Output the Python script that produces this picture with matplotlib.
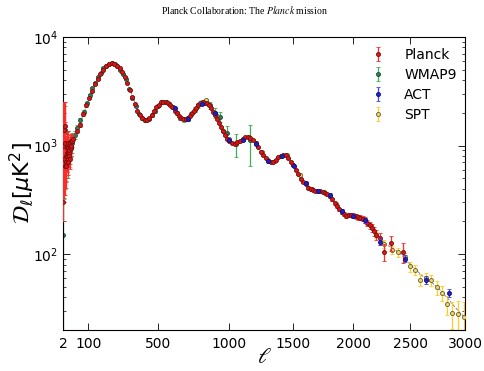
import numpy as np
import matplotlib
matplotlib.use("Agg")
import matplotlib.pyplot as plt

plt.rcParams['mathtext.fontset'] = 'stix'

# --- data ----------------------------------------------------------------
# best-fit model (thin dashed line)
model_ell = [2, 5, 10, 20, 30, 40, 60, 80, 100, 120, 140, 160, 180, 200, 220, 240, 260,
             280, 300, 330, 360, 390, 420, 450, 480, 510, 540, 570, 600, 630, 660, 690,
             720, 750, 780, 810, 840, 870, 900, 930, 960, 990, 1020, 1050, 1080, 1110,
             1140, 1170, 1200, 1230, 1260, 1290, 1320, 1350, 1380, 1410, 1440, 1470,
             1500, 1530, 1560, 1590, 1620, 1650, 1680, 1710, 1740, 1770, 1800, 1830,
             1860, 1890, 1920, 1950, 1980, 2010, 2040, 2070, 2100, 2130, 2160, 2190,
             2250, 2300, 2350, 2400, 2450, 2500, 2550, 2600, 2650, 2700, 2750, 2800,
             2850, 2900, 2950, 3000]
model_dl = [1000, 860, 820, 880, 1000, 1200, 1550, 2000, 2600, 3200, 3900, 4550, 5100,
            5550, 5730, 5620, 5300, 4850, 4200, 3150, 2380, 1900, 1720, 1800, 2100, 2400,
            2540, 2470, 2250, 2000, 1800, 1740, 1900, 2150, 2400, 2520, 2430, 2200, 1900,
            1600, 1330, 1150, 1060, 1060, 1120, 1180, 1200, 1150, 1050, 920, 810, 740, 705,
            720, 770, 810, 810, 750, 660, 580, 500, 450, 410, 395, 390, 385, 375, 355, 340,
            310, 280, 255, 238, 228, 226, 225, 220, 212, 203, 190, 175, 160, 135, 120, 112,
            103, 92, 80, 72, 64, 58, 54, 49, 43, 38, 33, 29, 26]

# Planck low-l (unbinned)
planck_low_ell = [2, 3, 4, 5, 6, 7, 8, 9, 10, 11, 12, 13, 14, 15, 16, 17, 18, 19, 20,
                  21, 22, 23, 24, 25, 26, 27, 28, 29]
planck_low_dl = [300, 1000, 750, 1400, 1500, 650, 1050, 800, 650, 700, 950, 800, 850,
                 1050, 850, 950, 700, 850, 800, 900, 750, 1000, 1050, 950, 950, 1100,
                 1000, 1100]
planck_low_lo = [100, 600, 420, 700, 650, 300, 400, 300, 240, 240, 280, 230, 230, 250,
                 200, 210, 160, 180, 160, 170, 140, 170, 170, 150, 150, 150, 140, 140]
planck_low_hi = [2200, 1500, 900, 1100, 1000, 500, 600, 420, 350, 330, 380, 300, 290,
                 320, 250, 260, 200, 220, 200, 210, 170, 210, 210, 180, 180, 180, 160, 160]

# Planck binned
planck_ell = [35, 48, 62, 76, 90, 104, 118, 132, 146, 160, 175, 190, 205, 220, 235, 250,
              265, 280, 295, 310, 325, 340, 355, 370, 385, 400, 415, 430, 445, 460, 475,
              490, 505, 520, 535, 550, 565, 580, 595, 610, 625, 640, 655, 670, 685, 700,
              715, 730, 745, 760, 775, 790, 805, 820, 835, 850, 865, 880, 895, 910, 925,
              940, 955, 970, 985, 1000, 1020, 1040, 1060, 1080, 1100, 1120, 1140, 1160,
              1180, 1200, 1220, 1240, 1260, 1280, 1300, 1320, 1340, 1360, 1380, 1400,
              1420, 1440, 1460, 1480, 1500, 1520, 1540, 1560, 1580, 1600, 1620, 1640,
              1660, 1680, 1700, 1720, 1740, 1760, 1780, 1800, 1820, 1840, 1860, 1880,
              1900, 1920, 1940, 1960, 1980, 2000, 2020, 2040, 2060, 2080, 2100, 2120,
              2140, 2160, 2180, 2200, 2230, 2270, 2330, 2430]
planck_dl = [1150, 1350, 1550, 1950, 2350, 2750, 3200, 3650, 4100, 4550, 5000, 5400,
             5650, 5750, 5680, 5450, 5150, 4800, 4300, 3800, 3250, 2800, 2400, 2100, 1900,
             1780, 1700, 1720, 1800, 1920, 2080, 2250, 2380, 2500, 2540, 2530, 2470, 2370,
             2250, 2100, 1980, 1870, 1800, 1760, 1750, 1790, 1880, 1990, 2100, 2220, 2350,
             2450, 2500, 2480, 2440, 2350, 2230, 2050, 1900, 1750, 1620, 1480, 1360, 1260,
             1160, 1100, 1050, 1040, 1070, 1110, 1160, 1190, 1200, 1170, 1120, 1050, 960,
             880, 810, 760, 720, 700, 710, 740, 780, 800, 815, 810, 770, 710, 660, 600, 545,
             490, 460, 440, 410, 395, 390, 385, 385, 380, 375, 365, 355, 340, 320, 295, 275,
             258, 245, 235, 225, 228, 230, 226, 222, 218, 216, 212, 205, 195, 185, 175, 162,
             150, 140, 105, 126, 105]
planck_err = [60, 60, 60, 70, 70, 70, 80, 80, 80, 80, 80, 80, 80, 80, 80, 80,
              80, 70, 70, 60, 60, 50, 45, 40, 35, 35, 35, 35, 35, 35, 35,
              40, 40, 40, 40, 40, 40, 40, 40, 35, 35, 35, 30, 30, 30, 30,
              30, 35, 35, 35, 40, 40, 40, 40, 40, 40, 40, 35, 35, 30, 30,
              30, 25, 25, 25, 20, 20, 20, 20, 20, 20, 20, 20, 20,
              20, 20, 18, 16, 15, 14, 14, 14, 14, 14, 15, 15,
              15, 15, 15, 14, 14, 12, 12, 11, 10, 10, 10, 10,
              10, 10, 10, 10, 10, 10, 10, 10, 10, 10, 10, 10,
              10, 10, 10, 10, 10, 11, 12, 12, 12, 12, 13, 13,
              14, 15, 16, 16, 18, 18, 20, 22, 20][:130]

# WMAP9
wmap_ell = [2, 3, 4, 5, 6, 7, 8, 10, 12, 15, 18, 22, 26, 30,
            40, 52, 64, 78, 92, 106, 120, 134, 148, 162, 176, 190, 205, 220, 236, 252,
            268, 284, 300,
            320, 340, 360, 380, 400, 420, 440, 460, 480, 500,
            525, 550, 575, 600, 625, 650, 675, 700,
            725, 750, 775, 800, 830, 860, 895, 935, 985, 1050, 1160]
wmap_dl = [150, 900, 700, 1300, 1400, 700, 1000, 750, 950, 1000, 700, 900, 1000, 1050,
           1250, 1450, 1700, 2050, 2450, 2900, 3350, 3800, 4250, 4700, 5150, 5450, 5650,
           5720, 5620, 5350, 5000, 4550, 4100,
           3300, 2750, 2300, 1950, 1780, 1710, 1760, 1900, 2080, 2320,
           2500, 2530, 2430, 2250, 2000, 1800, 1750, 1780,
           1950, 2150, 2350, 2480, 2500, 2350, 2000, 1844, 1295, 1032, 1124]
wmap_lo = [145, 550, 380, 650, 600, 300, 380, 280, 300, 280, 200, 220, 220, 200,
           100, 80, 80, 80, 80, 80, 80, 80, 80, 80, 80, 80, 80, 80, 80, 80, 80, 80, 80,
           70, 70, 60, 60, 60, 60, 60, 60, 70, 70,
           80, 80, 80, 80, 80, 80, 90, 90,
           100, 110, 120, 140, 160, 180, 200, 200, 127, 252, 477]
wmap_hi = [1300, 1300, 800, 1000, 900, 450, 550, 380, 400, 360, 250, 280, 270, 240,
           100, 80, 80, 80, 80, 80, 80, 80, 80, 80, 80, 80, 80, 80, 80, 80, 80, 80, 80,
           70, 70, 60, 60, 60, 60, 60, 60, 70, 70,
           80, 80, 80, 80, 80, 80, 90, 90,
           100, 110, 120, 140, 160, 180, 200, 200, 229, 245, 423]

# ACT
act_ell = [610, 700, 800, 895, 995, 1100, 1200, 1300, 1405, 1505, 1600, 1700, 1800, 1900,
           2000, 2100, 2230, 2450, 2645, 2850]
act_dl = [2200, 1760, 2430, 1980, 1124, 1130, 1040, 720, 800, 650, 450, 385, 350, 248, 226,
          205, 130, 91, 58, 44]
act_err = [60, 50, 60, 50, 30, 30, 30, 20, 20, 18, 14, 12, 12, 10, 10, 10, 9, 7, 5, 4]

# SPT
spt_ell = [650, 700, 750, 800, 830, 900, 950, 1000, 1050, 1100, 1150, 1200, 1250, 1300,
           1350, 1400, 1450, 1500, 1550, 1600, 1650, 1700, 1750, 1800, 1850, 1900, 1950,
           2000, 2050, 2100, 2150, 2200, 2270, 2335, 2392, 2450, 2497, 2542, 2586, 2640,
           2685, 2737, 2786, 2834, 2882, 2935, 2991]
spt_dl = [1800, 1760, 2140, 2450, 2627, 1900, 1360, 1140, 1060, 1150, 1200, 1060, 870,
          730, 720, 800, 810, 660, 540, 450, 400, 385, 375, 340, 290, 245, 228, 228, 220,
          205, 180, 150, 125, 109, 104, 95, 77, 72, 58, 60, 57.6, 49.3, 44, 34.4, 28.4,
          27.8, 26.4]
spt_err = [60, 50, 60, 60, 60, 50, 40, 30, 30, 30, 30, 30, 25, 20, 20, 20, 20, 18, 15, 12,
           12, 12, 12, 12, 10, 10, 10, 10, 10, 10, 10, 10, 10, 9, 9, 8, 8, 8, 7, 7, 7, 7,
           7, 7, 8, 9, 10]

# --- figure ----------------------------------------------------------------
fig = plt.figure(figsize=(4.84, 3.71), dpi=100)
ax = fig.add_axes([0.130, 0.1105, 0.831, 0.790])

pw = 0.8
ax.set_xscale('function', functions=(lambda x: np.sign(x) * np.abs(x) ** pw,
                                     lambda x: np.sign(x) * np.abs(x) ** (1 / pw)))
ax.set_yscale('log')

ax.plot(model_ell, model_dl, ls='--', color='0.45', lw=0.6, zorder=1)

kw = dict(fmt='o', ms=2.9, mew=0.6, elinewidth=0.9, capsize=1.6, capthick=0.9)
ax.errorbar(planck_low_ell, planck_low_dl, yerr=[planck_low_lo, planck_low_hi],
            color='#ff2a2a', mfc='#dd1515', mec='#701010', zorder=3, **kw)
ax.errorbar(wmap_ell, wmap_dl, yerr=[wmap_lo, wmap_hi], color='#3fae5a',
            mfc='#2f7a5a', mec='#1f4f3a', zorder=2, label='WMAP9', **kw)
ax.errorbar(act_ell, act_dl, yerr=act_err, color='#4040ff', mfc='#2020c8',
            mec='#101070', zorder=4, label='ACT', **kw)
ax.errorbar(spt_ell, spt_dl, yerr=spt_err, color='#ffcc22', mfc='#e8d870',
            mec='#6a5a20', zorder=2.5, label='SPT', **kw)
ax.errorbar(planck_ell, planck_dl, yerr=planck_err, color='#ff2a2a', mfc='#dd1515',
            mec='#701010', zorder=3.5, label='Planck', **kw)

ax.set_xlim(2, 3000)
ax.set_ylim(20, 1e4)
ax.set_xticks([2, 100, 500, 1000, 1500, 2000, 2500, 3000])
ax.set_xticklabels(['2', '100', '500', '1000', '1500', '2000', '2500', '3000'])
ax.tick_params(which='both', direction='in', top=True, right=True, labelsize=10)
ax.tick_params(which='major', length=5, width=0.6)
ax.tick_params(which='minor', length=2.5, width=0.5)
ax.tick_params(axis='x', pad=5)

ax.set_xlabel(r'$\ell$', fontsize=16, labelpad=-3)
ax.set_ylabel(r'$\mathcal{D}_\ell[\mu \mathrm{K}^2]$', fontsize=16,
              math_fontfamily='dejavusans')
ax.yaxis.set_label_coords(-0.068, 0.5)

h, l = ax.get_legend_handles_labels()
order = [l.index(n) for n in ['Planck', 'WMAP9', 'ACT', 'SPT']]
ax.legend([h[i] for i in order], [l[i] for i in order], loc='upper right',
          bbox_to_anchor=(1.01, 1.004), frameon=False, numpoints=1, fontsize=10,
          handlelength=1.2, handletextpad=1.3, labelspacing=0.42)

fig.text(0.505, 0.972, r'Planck Collaboration: The $\mathit{Planck}$ mission',
         family='Liberation Serif', fontsize=7, ha='center', va='center')

fig.savefig('out.png', dpi=100)
